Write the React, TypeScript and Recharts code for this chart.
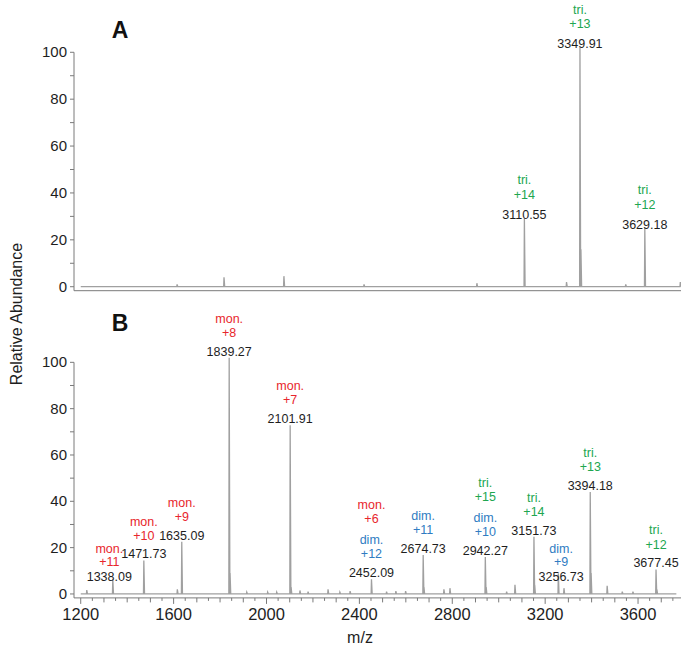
import React from 'react'
import { LineChart, Line, XAxis, YAxis, ReferenceLine } from 'recharts'

// panel A peaks (m/z, relative abundance)
const mzA = [1615, 1817, 2075, 2420, 2906, 3110.55, 3292, 3349.91, 3354, 3547, 3629.18, 3782]
const abA = [1, 4, 4.5, 1, 1.5, 29.3, 2, 102, 16, 1, 25, 2]

// panel B peaks
const mzB = [
  1226, 1338.09, 1471.73, 1616, 1635.09, 1839.27, 1843, 1915, 2005, 2044, 2101.91, 2106, 2144, 2179,
  2265, 2316, 2360, 2452.09, 2517, 2557, 2599, 2674.73, 2678, 2764, 2790, 2942.27, 2946, 3034, 3070,
  3151.73, 3155, 3256.73, 3281, 3394.18, 3398, 3467, 3532, 3578, 3677.45, 3681,
]
const abB = [
  1.7, 6.3, 14.4, 2, 22.5, 102, 9, 0.8, 0.8, 0.8, 72.8, 3, 1.5, 1,
  2, 0.8, 1.2, 6.3, 1, 1.2, 1.2, 16.8, 3, 2, 2.5, 16, 3, 1, 4,
  24.7, 4, 8.9, 2.5, 44, 9, 3.5, 1, 1, 10.6, 2,
]

// annotations, ion groups listed top to bottom
const annA = [
  { mz: 3110.55, text: '3110.55', ions: [['tri.', '+14']] },
  { mz: 3349.91, text: '3349.91', ions: [['tri.', '+13']] },
  { mz: 3629.18, text: '3629.18', ions: [['tri.', '+12']] },
]
const annB = [
  { mz: 1338.09, text: '1338.09', ions: [['mon.', '+11']] },
  { mz: 1471.73, text: '1471.73', ions: [['mon.', '+10']] },
  { mz: 1635.09, text: '1635.09', ions: [['mon.', '+9']] },
  { mz: 1839.27, text: '1839.27', ions: [['mon.', '+8']] },
  { mz: 2101.91, text: '2101.91', ions: [['mon.', '+7']] },
  { mz: 2452.09, text: '2452.09', ions: [['mon.', '+6'], ['dim.', '+12']] },
  { mz: 2674.73, text: '2674.73', ions: [['dim.', '+11']] },
  { mz: 2942.27, text: '2942.27', ions: [['tri.', '+15'], ['dim.', '+10']] },
  { mz: 3151.73, text: '3151.73', ions: [['tri.', '+14']] },
  { mz: 3256.73, text: '3256.73', ions: [['dim.', '+9']] },
  { mz: 3394.18, text: '3394.18', ions: [['tri.', '+13']] },
  { mz: 3677.45, text: '3677.45', ions: [['tri.', '+12']] },
]

const xLabels = [1200, 1600, 2000, 2400, 2800, 3200, 3600]
const yTicks = [0, 10, 20, 30, 40, 50, 60, 70, 80, 90, 100]

// label placement tweaks (pixels) for crowded peaks
const nudge: Record<string, { dx: number; dy: number; tight: boolean }> = {
  '1338.09': { dx: -3.5, dy: 3.4, tight: true },
  '3256.73': { dx: 2.8, dy: 9.4, tight: true },
}

const X_DOMAIN: [number, number] = [1171, 3785]
const Y_DOMAIN: [number, number] = [-1.7, 102]
const FONT = "Arial, 'Liberation Sans', sans-serif"
const AXIS = '#7a7a7a'
const TRACE = '#a0a0a0'
const kindColor: Record<string, string> = { 'mon.': '#e8262c', 'dim.': '#2f7cc2', 'tri.': '#20a650' }

const xTicks: number[] = []
for (let v = 1200; v <= 3750; v += 50) xTicks.push(v)

function spectrum(mz: number[], ab: number[], start: number, end: number) {
  const pts = [{ mz: start, ab: 0 }]
  mz.forEach((m, i) => {
    pts.push({ mz: m - 1.5, ab: 0 }, { mz: m, ab: ab[i] }, { mz: m + 3, ab: 0 })
  })
  pts.push({ mz: end, ab: 0 })
  return pts
}

function annotations(ann: typeof annB, mz: number[], ab: number[]) {
  return ann.map((a) => ({ ...a, ab: ab[mz.indexOf(a.mz)] }))
}

// center offset of the m/z label above the peak top, and gaps between stacked lines
const makeAnno = (lift: number, gap1: number) => (props: any) => {
  const { cx, cy, payload, index } = props
  const n = nudge[payload.text]
  const x = cx + (n ? n.dx : 0)
  // baseline = center + 4.5
  let y = cy - lift + 4.5 + (n ? n.dy : 0)
  const g1 = n && n.tight ? 14.3 : gap1
  const g2 = n && n.tight ? 13.4 : 14.2
  const out = [
    <text key="mz" x={x} y={y} textAnchor="middle" fontSize={12.5} fill="#1e1e1e" fontFamily={FONT}>
      {payload.text}
    </text>,
  ]
  const ions = [...payload.ions].reverse()
  ions.forEach((ion: string[], j: number) => {
    y -= j === 0 ? g1 : 21
    out.push(
      <text key={'c' + j} x={x} y={y} textAnchor="middle" fontSize={12.5} fill={kindColor[ion[0]]} fontFamily={FONT}>
        {ion[1]}
      </text>
    )
    y -= g2
    out.push(
      <text key={'k' + j} x={x} y={y} textAnchor="middle" fontSize={12.5} fill={kindColor[ion[0]]} fontFamily={FONT}>
        {ion[0]}
      </text>
    )
  })
  return <g key={'a' + index}>{out}</g>
}

const YTick = (props: any) => {
  const { x, y, payload } = props
  if (payload.value % 20 !== 0) return <g />
  return (
    <text x={x} y={y} dy={5} textAnchor="end" fontSize={15} fill="#1e1e1e" fontFamily={FONT}>
      {payload.value}
    </text>
  )
}

const XTick = (props: any) => {
  const { x, y, payload } = props
  const v = payload.value
  const major = xLabels.includes(v)
  const len = major ? 6 : v % 100 === 0 ? 4.5 : 3
  return (
    <g>
      <line x1={x} x2={x} y1={y} y2={y + len} stroke={AXIS} />
      {major && (
        <text x={x} y={y + 22.5} textAnchor="middle" fontSize={16.5} fill="#1e1e1e" fontFamily={FONT}>
          {v}
        </text>
      )}
    </g>
  )
}

function Panel({ data, ann, lift, gap1, height, margin, showX }: any) {
  return (
    <LineChart width={685} height={height} margin={margin}>
      <XAxis
        type="number"
        dataKey="mz"
        domain={X_DOMAIN}
        allowDataOverflow
        ticks={showX ? xTicks : []}
        interval={0}
        tick={showX ? <XTick /> : false}
        tickLine={false}
        tickSize={0}
        tickMargin={0}
        height={showX ? 30 : 1}
        stroke={AXIS}
      />
      <YAxis
        type="number"
        domain={Y_DOMAIN}
        ticks={yTicks}
        interval={0}
        width={40}
        axisLine={false}
        tickSize={4}
        tickMargin={3}
        tickLine={{ stroke: AXIS }}
        tick={<YTick />}
      />
      <ReferenceLine
        segment={[
          { x: X_DOMAIN[0], y: Y_DOMAIN[0] },
          { x: X_DOMAIN[0], y: 100 },
        ]}
        stroke={AXIS}
      />
      <Line
        data={data}
        dataKey="ab"
        type="linear"
        stroke={TRACE}
        strokeWidth={1.3}
        dot={false}
        activeDot={false}
        isAnimationActive={false}
      />
      <Line
        data={ann}
        dataKey="ab"
        stroke="none"
        dot={makeAnno(lift, gap1)}
        activeDot={false}
        isAnimationActive={false}
      />
    </LineChart>
  )
}

export default function App() {
  const dataA = spectrum(mzA, abA, 1200, 3785)
  const dataB = spectrum(mzB, abB, 1200, 3765)
  return (
    <div style={{ position: 'absolute', left: 0, top: 0, width: 685, height: 647, background: '#fff' }}>
      <div style={{ position: 'absolute', left: 0, top: 0 }}>
        <Panel
          data={dataA}
          ann={annotations(annA, mzA, abA)}
          lift={4}
          gap1={20}
          height={300}
          margin={{ top: 47.6, right: 4, bottom: 8.3, left: 34 }}
          showX={false}
        />
      </div>
      <div style={{ position: 'absolute', left: 0, top: 300 }}>
        <Panel
          data={dataB}
          ann={annotations(annB, mzB, abB)}
          lift={6.7}
          gap1={18.7}
          height={347}
          margin={{ top: 57.7, right: 4, bottom: 19.1, left: 34 }}
          showX={true}
        />
      </div>
      <svg width={685} height={647} style={{ position: 'absolute', left: 0, top: 0, pointerEvents: 'none' }}>
        <text x={120} y={38} textAnchor="middle" fontSize={23} fontWeight="bold" fontFamily={FONT} fill="#111">
          A
        </text>
        <text x={120} y={331} textAnchor="middle" fontSize={23} fontWeight="bold" fontFamily={FONT} fill="#111">
          B
        </text>
        <text
          x={22}
          y={314}
          transform="rotate(-90 22 314)"
          textAnchor="middle"
          fontSize={16}
          fontFamily={FONT}
          fill="#1e1e1e"
        >
          Relative Abundance
        </text>
        <text x={360} y={643} textAnchor="middle" fontSize={16} fontFamily={FONT} fill="#1e1e1e">
          m/z
        </text>
      </svg>
    </div>
  )
}
